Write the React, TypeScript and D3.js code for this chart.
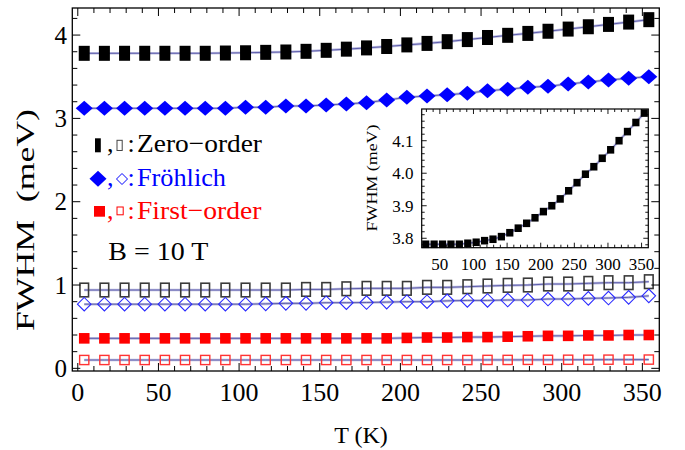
import React from 'react';
import * as d3 from 'd3';

// Temperature grid (K) shared by every series
const temperatures = [
  4, 16.5, 29, 41.5, 54, 66.5, 79, 91.5, 104, 116.5, 129, 141.5, 154, 166.5, 179,
  191.5, 204, 216.5, 229, 241.5, 254, 266.5, 279, 291.5, 304, 316.5, 329, 341.5, 354,
];

// FWHM (meV), filled markers
const zeroOrderFilled = [
  3.781, 3.781, 3.7815, 3.7815, 3.7815, 3.7815, 3.7815, 3.7846, 3.7877, 3.7926,
  3.797, 3.805, 3.817, 3.831, 3.846, 3.863, 3.882, 3.9, 3.921, 3.946, 3.971,
  3.997, 4.02, 4.046, 4.072, 4.1, 4.128, 4.156, 4.185,
];
const frohlichFilled = [
  3.121, 3.121, 3.121, 3.121, 3.121, 3.121, 3.121, 3.121, 3.133, 3.133, 3.149,
  3.149, 3.161, 3.173, 3.189, 3.22, 3.253, 3.269, 3.285, 3.301, 3.333, 3.349,
  3.373, 3.385, 3.413, 3.437, 3.461, 3.481, 3.501,
];
const firstOrderFilled = [
  0.36, 0.36, 0.36, 0.36, 0.36, 0.36, 0.36, 0.36, 0.36, 0.36, 0.36, 0.36, 0.36,
  0.36, 0.36, 0.36, 0.365, 0.37, 0.37, 0.375, 0.375, 0.38, 0.385, 0.39, 0.39,
  0.395, 0.395, 0.4, 0.4,
];

// FWHM (meV), open markers
const zeroOrderOpen = [
  0.94, 0.94, 0.94, 0.94, 0.94, 0.94, 0.94, 0.94, 0.94, 0.94, 0.94, 0.947, 0.947,
  0.955, 0.96, 0.96, 0.96, 0.972, 0.972, 0.98, 0.988, 0.996, 1.0, 1.012, 1.012,
  1.02, 1.028, 1.028, 1.04,
];
const frohlichOpen = [
  0.77, 0.77, 0.77, 0.77, 0.77, 0.77, 0.77, 0.77, 0.77, 0.774, 0.78, 0.78, 0.788,
  0.788, 0.79, 0.795, 0.8, 0.8, 0.81, 0.815, 0.815, 0.82, 0.82, 0.832, 0.832,
  0.84, 0.844, 0.852, 0.87,
];
const firstOrderOpen = [
  0.1, 0.1, 0.1, 0.1, 0.1, 0.1, 0.1, 0.1, 0.1, 0.1, 0.1, 0.1, 0.1, 0.1, 0.1, 0.1,
  0.1, 0.1, 0.1, 0.1, 0.101, 0.101, 0.102, 0.102, 0.103, 0.103, 0.104, 0.104,
  0.105,
];

// Axis tick labels
const xTickValues = [0, 50, 100, 150, 200, 250, 300, 350];
const yTickValues = [0, 1, 2, 3, 4];
const insetXTickValues = [50, 100, 150, 200, 250, 300, 350];
const insetYTickValues = [3.8, 3.9, 4.0, 4.1];

// Legend
const legendLabels = ['Zero\u2212order', 'Fr\u00f6hlich', 'First\u2212order'];
const fieldLabel = 'B = 10 T';

const FONT = "'Liberation Serif', 'Times New Roman', Times, serif";
const BLUE = '#0000ff';
const RED = '#ff0000';
const LINE = '#5252a6';
const HALO = '#bdbde0';

type Pt = [number, number];

function FitLine({ pts }: { pts: Pt[] }) {
  const gen = d3.line<Pt>().x((d) => d[0]).y((d) => d[1]);
  const d = gen(pts) || '';
  return (
    <g fill="none">
      <path d={d} stroke={HALO} strokeWidth={2.6} />
      <path d={d} stroke={LINE} strokeWidth={0.9} />
    </g>
  );
}

function diamondPath(cx: number, cy: number, w: number, h: number) {
  return `M${cx - w / 2},${cy}L${cx},${cy - h / 2}L${cx + w / 2},${cy}L${cx},${cy + h / 2}Z`;
}

export default function App() {
  // Main panel
  const left = 72.3, right = 659.3, top = 8, bottom = 371;
  const x = d3.scaleLinear().domain([-3.4, 360.5]).range([left, right]);
  const y = d3.scaleLinear().domain([-0.032, 4.325]).range([bottom, top]);

  const xMinor = d3.range(0, 356, 10).filter((v) => v % 50 !== 0);
  const yMinor = d3.range(0, 4.3, 0.2).filter((v) => Math.abs(v - Math.round(v)) > 1e-6);

  const ptsOf = (vals: number[]) => vals.map((v, i) => [x(temperatures[i]), y(v)] as Pt);

  // Inset panel
  const iL = 421.7, iR = 648.3, iT = 109, iB = 247.7;
  const xi = d3.scaleLinear().domain([23, 360]).range([iL, iR]);
  const yi = d3.scaleLinear().domain([3.771, 4.1975]).range([iB, iT]);
  const insetT = temperatures.slice(2);
  const insetV = zeroOrderFilled.slice(2);
  const insetPts = insetV.map((v, i) => [xi(insetT[i]), yi(v)] as Pt);
  const ixMinor = d3.range(30, 360, 10).filter((v) => v % 50 !== 0);
  const iyMinor = d3.range(3.78, 4.19, 0.02).filter((v) => Math.abs(v * 10 - Math.round(v * 10)) > 1e-6);

  const majorLen = 8, minorLen = 5;
  const iMajor = 5, iMinorLen = 3;

  const zf = ptsOf(zeroOrderFilled);
  const ff = ptsOf(frohlichFilled);
  const rf = ptsOf(firstOrderFilled);
  const zo = ptsOf(zeroOrderOpen);
  const fo = ptsOf(frohlichOpen);
  const ro = ptsOf(firstOrderOpen);

  return (
    <svg
      width={685}
      height={450}
      viewBox="0 0 685 450"
      style={{ position: 'absolute', left: 0, top: 0, background: '#fff', fontFamily: FONT }}
    >
      <rect x={0} y={0} width={685} height={450} fill="#fff" />

      {/* fitted curves */}
      <FitLine pts={zf} />
      <FitLine pts={ff} />
      <FitLine pts={zo} />
      <FitLine pts={fo} />
      <FitLine pts={rf} />
      <FitLine pts={ro} />

      {/* zero-order, filled */}
      {zf.map(([cx, cy], i) => (
        <rect key={`zf${i}`} x={cx - 5.5} y={cy - 7.5} width={11} height={15} fill="#000" />
      ))}
      {/* Fröhlich, filled */}
      {ff.map(([cx, cy], i) => (
        <path key={`ff${i}`} d={diamondPath(cx, cy, 17, 15)} fill={BLUE} />
      ))}
      {/* first-order, filled */}
      {rf.map(([cx, cy], i) => (
        <rect key={`rf${i}`} x={cx - 5.3} y={cy - 5.3} width={10.6} height={10.6} fill={RED} />
      ))}
      {/* zero-order, open */}
      {zo.map(([cx, cy], i) => (
        <rect key={`zo${i}`} x={cx - 4.3} y={cy - 6.8} width={8.6} height={13.6} fill="none" stroke="#3a3a3a" strokeWidth={1.6} />
      ))}
      {/* Fröhlich, open */}
      {fo.map(([cx, cy], i) => (
        <path key={`fo${i}`} d={diamondPath(cx, cy, 13.5, 13.5)} fill="none" stroke="#2a2aff" strokeWidth={1.1} />
      ))}
      {/* first-order, open */}
      {ro.map(([cx, cy], i) => (
        <rect key={`ro${i}`} x={cx - 4.6} y={cy - 4.6} width={9.2} height={9.2} fill="none" stroke="#ff3333" strokeWidth={1.4} />
      ))}

      {/* frame */}
      <rect x={left} y={top} width={right - left} height={bottom - top} fill="none" stroke="#000" strokeWidth={1.3} />

      {/* ticks */}
      <g stroke="#000" strokeWidth={1}>
        {xTickValues.map((v) => (
          <g key={`xM${v}`}>
            <line x1={x(v)} x2={x(v)} y1={bottom} y2={bottom - majorLen} />
            <line x1={x(v)} x2={x(v)} y1={top} y2={top + majorLen} />
          </g>
        ))}
        {xMinor.map((v) => (
          <g key={`xm${v}`}>
            <line x1={x(v)} x2={x(v)} y1={bottom} y2={bottom - minorLen} />
            <line x1={x(v)} x2={x(v)} y1={top} y2={top + minorLen} />
          </g>
        ))}
        {yTickValues.map((v) => (
          <g key={`yM${v}`}>
            <line x1={left} x2={left + majorLen} y1={y(v)} y2={y(v)} />
            <line x1={right} x2={right - majorLen} y1={y(v)} y2={y(v)} />
          </g>
        ))}
        {yMinor.map((v) => (
          <g key={`ym${v}`}>
            <line x1={left} x2={left + minorLen} y1={y(v)} y2={y(v)} />
            <line x1={right} x2={right - minorLen} y1={y(v)} y2={y(v)} />
          </g>
        ))}
      </g>

      {/* tick labels */}
      <g fontSize={26} fill="#000" textAnchor="middle">
        {xTickValues.map((v) => (
          <text key={`xl${v}`} x={x(v)} y={401}>{v}</text>
        ))}
      </g>
      <g fontSize={25} fill="#000" textAnchor="end">
        {yTickValues.map((v) => (
          <text key={`yl${v}`} x={67} y={y(v) + 8.6}>{v}</text>
        ))}
      </g>

      {/* axis titles */}
      <text x={361} y={443} fontSize={24} textAnchor="middle">T (K)</text>
      <text
        transform="translate(34,220) rotate(-90)"
        fontSize={25}
        textAnchor="middle"
        textLength={222}
        lengthAdjust="spacingAndGlyphs"
        style={{ whiteSpace: 'pre' }}
      >
        {'FWHM  (meV)'}
      </text>

      {/* legend */}
      <g fontSize={26}>
        <rect x={95} y={138.3} width={5.8} height={14} fill="#000" />
        <text x={107} y={152.3} fill="#000">,</text>
        <rect x={117} y={140.3} width={5.2} height={10.2} fill="none" stroke="#444" strokeWidth={1} />
        <text x={127.5} y={152.3} fill="#000">:</text>
        <text x={137} y={152.3} fill="#000" textLength={125} lengthAdjust="spacingAndGlyphs">{legendLabels[0]}</text>

        <path d={diamondPath(98, 178.7, 17, 16)} fill={BLUE} />
        <text x={107} y={185.7} fill={BLUE}>,</text>
        <path d={diamondPath(122, 179, 11, 11)} fill="none" stroke={BLUE} strokeWidth={1} />
        <text x={127.5} y={185.7} fill={BLUE}>:</text>
        <text x={137} y={185.7} fill={BLUE} textLength={89} lengthAdjust="spacingAndGlyphs">{legendLabels[1]}</text>

        <rect x={94} y={206} width={11} height={10.7} fill={RED} />
        <text x={107} y={219} fill={RED}>,</text>
        <rect x={117} y={207} width={6.2} height={7.8} fill="none" stroke={RED} strokeWidth={1} />
        <text x={127.5} y={219} fill={RED}>:</text>
        <text x={137} y={219} fill={RED} textLength={124.5} lengthAdjust="spacingAndGlyphs">{legendLabels[2]}</text>

        <text x={108.3} y={260} fill="#000" textLength={100} lengthAdjust="spacingAndGlyphs" style={{ whiteSpace: 'pre' }}>{fieldLabel}</text>
      </g>

      {/* inset */}
      <rect x={iL} y={iT} width={iR - iL} height={iB - iT} fill="#fff" />
      <FitLine pts={insetPts} />
      {insetPts.map(([cx, cy], i) => (
        <rect key={`in${i}`} x={cx - 3.6} y={cy - 3.8} width={7.2} height={7.6} fill="#000" />
      ))}
      <rect x={iL} y={iT} width={iR - iL} height={iB - iT} fill="none" stroke="#000" strokeWidth={1.2} />
      <g stroke="#000" strokeWidth={0.9}>
        {insetXTickValues.map((v) => (
          <g key={`ixM${v}`}>
            <line x1={xi(v)} x2={xi(v)} y1={iB} y2={iB - iMajor} />
            <line x1={xi(v)} x2={xi(v)} y1={iT} y2={iT + iMajor} />
          </g>
        ))}
        {ixMinor.map((v) => (
          <g key={`ixm${v}`}>
            <line x1={xi(v)} x2={xi(v)} y1={iB} y2={iB - iMinorLen} />
            <line x1={xi(v)} x2={xi(v)} y1={iT} y2={iT + iMinorLen} />
          </g>
        ))}
        {insetYTickValues.map((v) => (
          <g key={`iyM${v}`}>
            <line x1={iL} x2={iL + iMajor} y1={yi(v)} y2={yi(v)} />
            <line x1={iR} x2={iR - iMajor} y1={yi(v)} y2={yi(v)} />
          </g>
        ))}
        {iyMinor.map((v) => (
          <g key={`iym${v}`}>
            <line x1={iL} x2={iL + iMinorLen} y1={yi(v)} y2={yi(v)} />
            <line x1={iR} x2={iR - iMinorLen} y1={yi(v)} y2={yi(v)} />
          </g>
        ))}
      </g>
      <g fontSize={17} fill="#000" textAnchor="middle">
        {insetXTickValues.map((v) => (
          <text key={`ixl${v}`} x={xi(v)} y={270}>{v}</text>
        ))}
      </g>
      <g fontSize={17} fill="#000" textAnchor="end">
        {insetYTickValues.map((v) => (
          <text key={`iyl${v}`} x={413.5} y={yi(v) + 5.8}>{d3.format('.1f')(v)}</text>
        ))}
      </g>
      <text
        transform="translate(377,178) rotate(-90)"
        fontSize={14.5}
        textAnchor="middle"
        textLength={107}
        lengthAdjust="spacingAndGlyphs"
      >
        FWHM (meV)
      </text>
    </svg>
  );
}
